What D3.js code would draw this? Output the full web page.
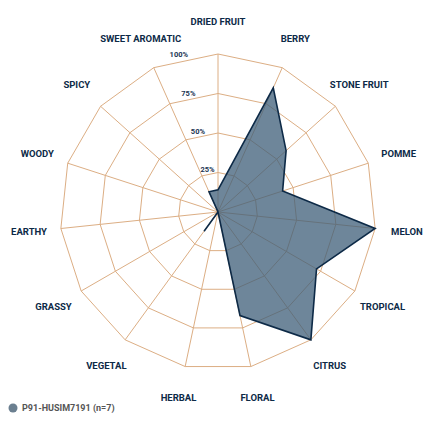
<!DOCTYPE html>
<html>
<head>
<meta charset="utf-8">
<style>
  body { margin: 0; background: #fff; }
  svg { font-family: Roboto, 'Liberation Sans', sans-serif; }
</style>
</head>
<body>
<svg width="430" height="430"></svg>
<script src="https://d3js.org/d3.v7.min.js"></script>
<script>
  // axis categories, clockwise from top
  let categories = ["DRIED FRUIT", "BERRY", "STONE FRUIT", "POMME", "MELON", "TROPICAL", "CITRUS",
    "FLORAL", "HERBAL", "VEGETAL", "GRASSY", "EARTHY", "WOODY", "SPICY", "SWEET AROMATIC"]
  let values = [14, 86, 58, 43, 100, 72, 100, 67, 0, 15, 0, 0, 0, 0, 14]
  let ringTicks = [25, 50, 75, 100]
  let tickLabels = ["25%", "50%", "75%", "100%"]
  let seriesName = "P91-HUSIM7191 (n=7)"

  let cx = 218, cy = 212, radius = 158
  let svg = d3.select("svg")
  let g = svg.append("g").attr("transform", `translate(${cx},${cy})`)

  let r = d3.scaleLinear().domain([0, 100]).range([0, radius])
  let angle = d3.scaleLinear().domain([0, categories.length]).range([0, 2 * Math.PI])

  let pt = (i, v) => [Math.sin(angle(i)) * r(v), -Math.cos(angle(i)) * r(v)]

  let ringLine = d3.lineRadial().angle((d, i) => angle(i)).radius(d => r(d)).curve(d3.curveLinearClosed)

  // rings
  g.selectAll(".ring")
    .data(ringTicks)
    .join("path")
    .attr("d", t => ringLine(categories.map(() => t)))
    .style("fill", "none")
    .style("stroke", "#dcae84")
    .style("stroke-width", 1)

  // spokes
  g.selectAll(".spoke")
    .data(categories)
    .join("line")
    .attr("x1", 0).attr("y1", 0)
    .attr("x2", (d, i) => pt(i, 100)[0])
    .attr("y2", (d, i) => pt(i, 100)[1])
    .style("stroke", "#dcae84")
    .style("stroke-width", 1)

  // series
  g.append("path")
    .attr("d", ringLine(values))
    .style("fill", "#3e5d78")
    .style("fill-opacity", 0.75)
    .style("stroke", "#0d2a47")
    .style("stroke-width", 1.6)
    .style("stroke-linejoin", "miter")

  // tick labels
  g.selectAll(".tick")
    .data(ringTicks)
    .join("text")
    .attr("x", (d, i) => Math.sin(-14 * Math.PI / 180) * (r(d) + 4))
    .attr("y", (d, i) => -Math.cos(-14 * Math.PI / 180) * (r(d) + 4))
    .attr("text-anchor", "middle")
    .attr("dy", "0.35em")
    .style("font-size", "7.5px")
    .style("font-weight", "bold")
    .style("fill", "#1b3553")
    .text((d, i) => tickLabels[i])

  // category labels
  g.selectAll(".label")
    .data(categories)
    .join("text")
    .attr("x", (d, i) => Math.sin(angle(i)) * 190)
    .attr("y", (d, i) => -Math.cos(angle(i)) * 190)
    .attr("text-anchor", "middle")
    .attr("dy", "0.35em")
    .style("font-size", "9.5px")
    .style("font-weight", "bold")
    .style("fill", "#0d2a47")
    .text(d => d)

  // legend
  svg.append("circle").attr("cx", 13).attr("cy", 408).attr("r", 4.5).style("fill", "#6b7f90")
  svg.append("text").attr("x", 22).attr("y", 408).attr("dy", "0.35em")
    .style("font-size", "9px").style("font-weight", "bold").style("fill", "#555")
    .text(seriesName)
</script>
</body>
</html>
